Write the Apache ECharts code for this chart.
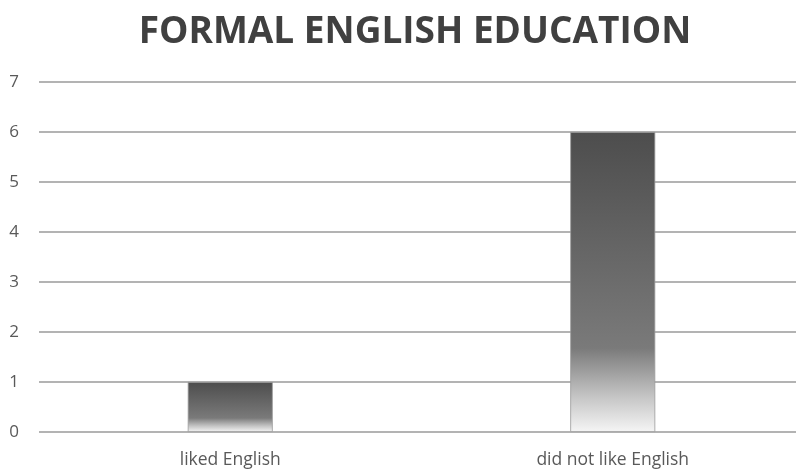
<!DOCTYPE html>
<html><head><meta charset="utf-8">
<script src="https://cdn.jsdelivr.net/npm/echarts@6/dist/echarts.min.js"></script>
<style>html,body{margin:0;padding:0;background:#fff}#c{width:796px;height:470px}</style>
</head><body><div id="c"></div>
<script>
const categories = ['liked English', 'did not like English'];
const values = [1, 6];
const yTicks = [0, 1, 2, 3, 4, 5, 6, 7];

const chart = echarts.init(document.getElementById('c'), null, {renderer: 'canvas'});
chart.setOption({
  animation: false,
  title: {
    text: 'FORMAL ENGLISH EDUCATION',
    left: 410, top: 9, textAlign: 'center',
    textStyle: {fontFamily: 'Open Sans', fontWeight: 'bold', fontSize: 37, color: '#404040'}
  },
  grid: {left: 39, width: 765, top: 82, height: 350, containLabel: false, outerBoundsMode: 'none'},
  xAxis: {
    type: 'category', data: categories,
    axisLine: {show: false}, axisTick: {show: false},
    axisLabel: {fontFamily: 'Open Sans', fontSize: 17.5, color: '#595959', margin: 19}
  },
  yAxis: {
    type: 'value', min: 0, max: yTicks[yTicks.length - 1], interval: 1,
    axisLine: {show: false}, axisTick: {show: false},
    axisLabel: {fontFamily: 'Open Sans', fontSize: 17, color: '#595959', margin: 20},
    splitLine: {lineStyle: {color: '#b3b3b3', width: 2}}
  },
  series: [{
    type: 'bar', data: values, barWidth: 85,
    itemStyle: {
      color: new echarts.graphic.LinearGradient(0, 0, 0, 1, [
        {offset: 0, color: '#4d4d4d'},
        {offset: 0.72, color: '#7a7a7a'},
        {offset: 0.88, color: '#c4c4c4'},
        {offset: 1, color: '#f5f5f5'}
      ]),
      borderColor: '#9a9a9a', borderWidth: 0.8
    }
  }]
});
</script></body></html>
